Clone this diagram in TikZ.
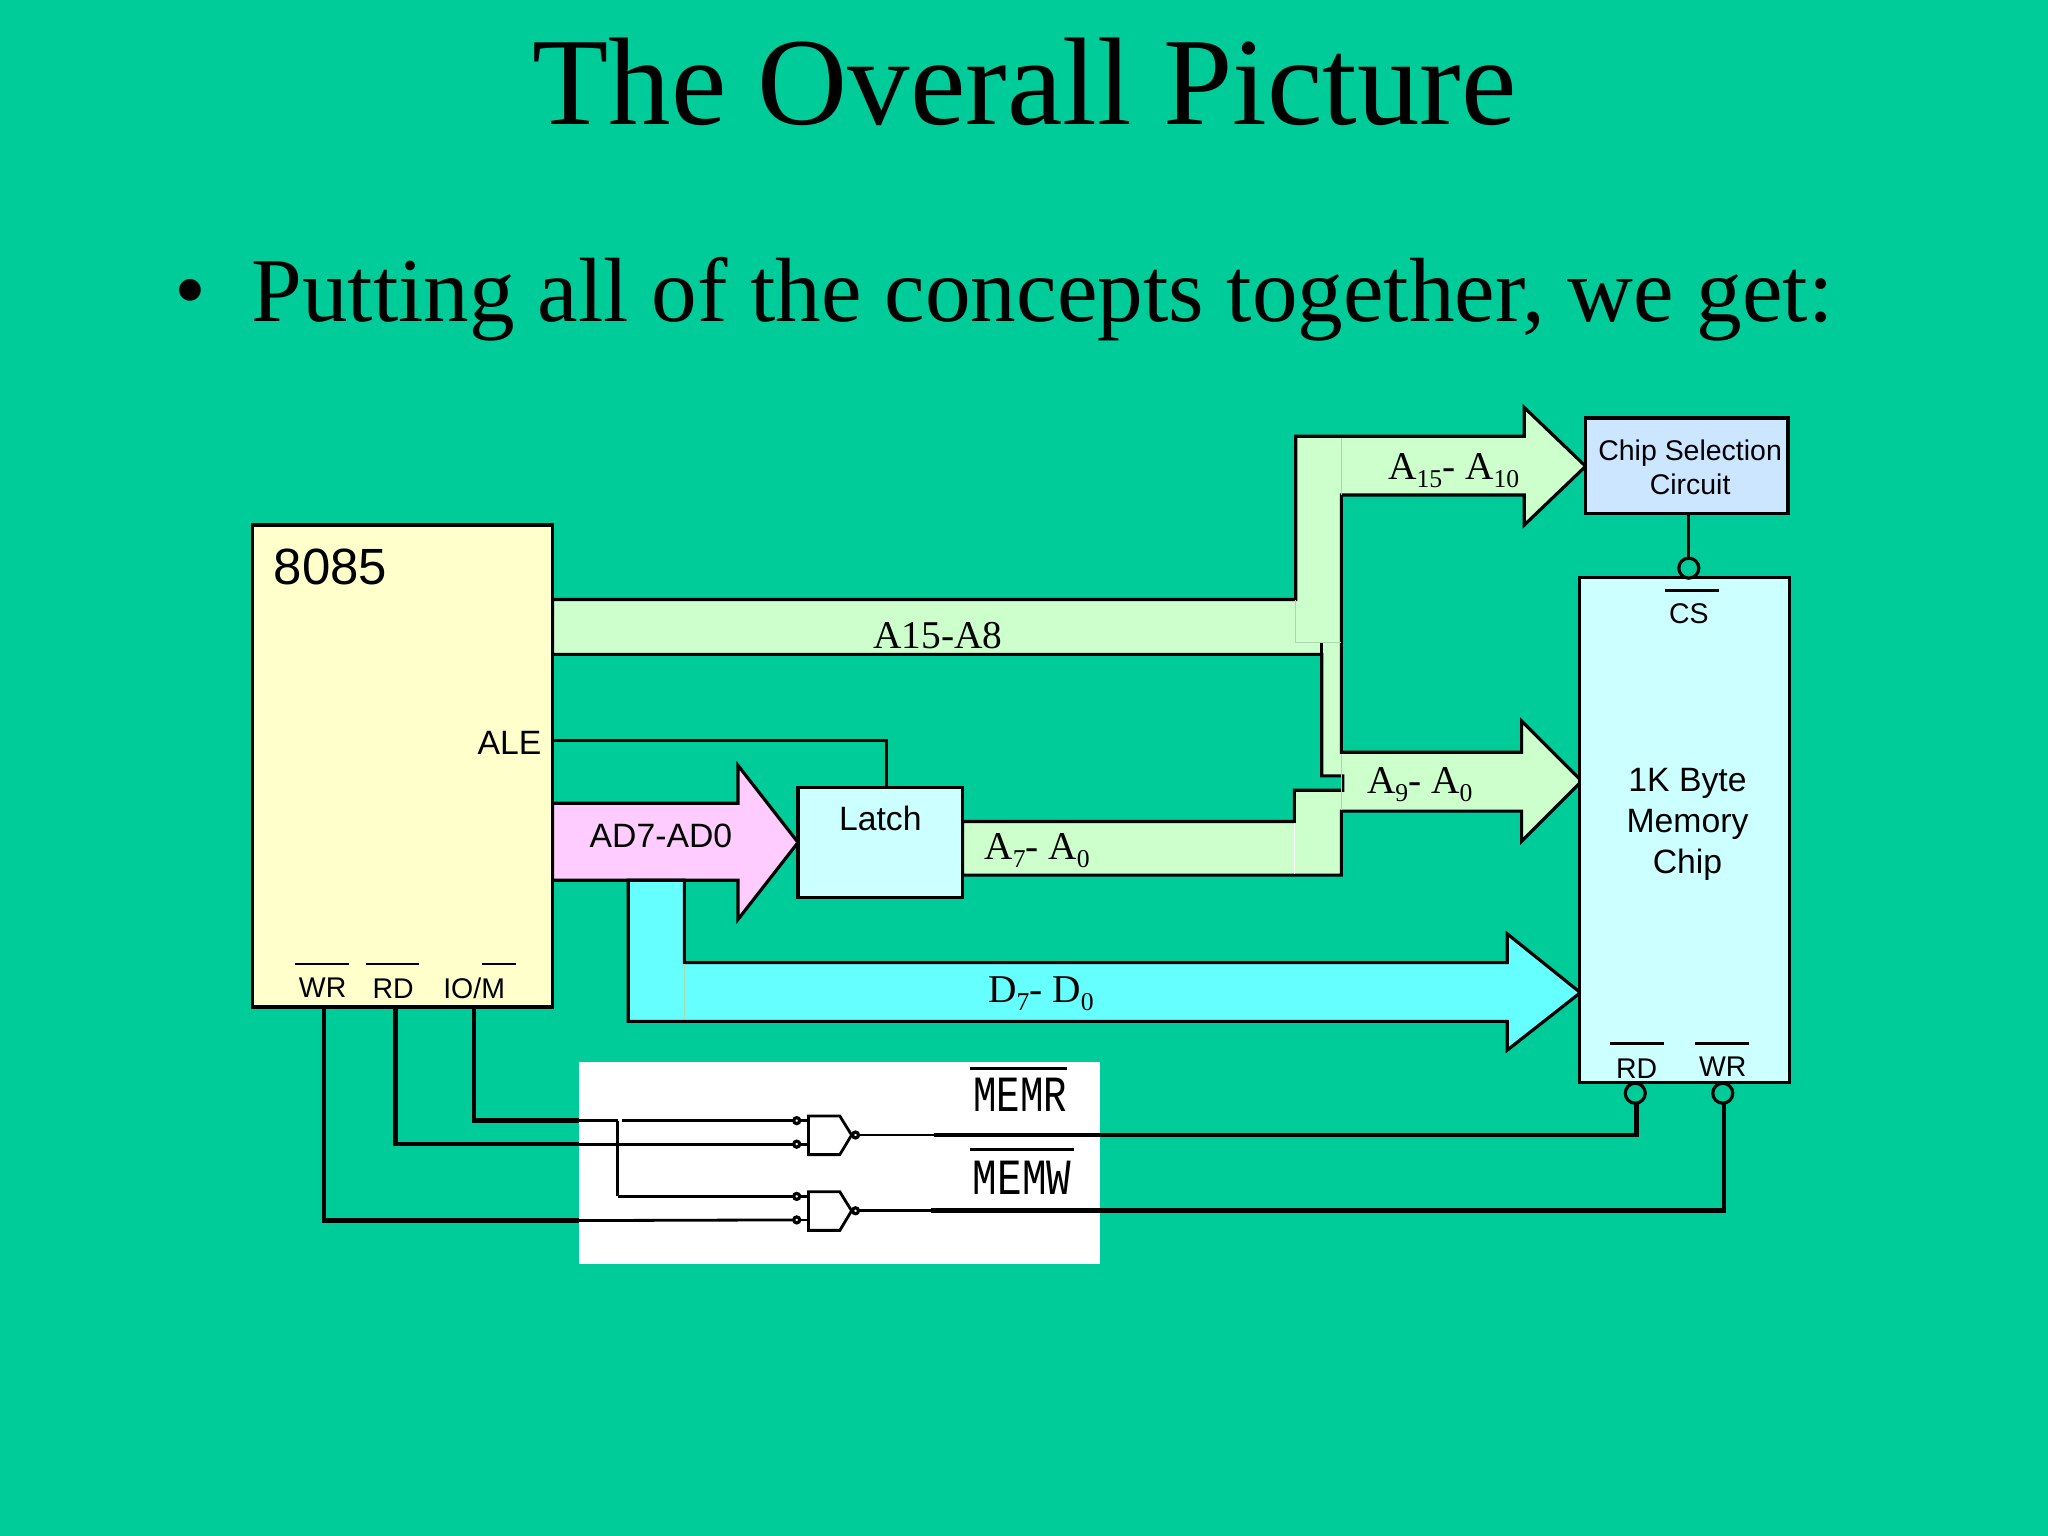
\documentclass[tikz,border=0pt]{standalone}
\usepackage{fontspec}
\setmainfont{Liberation Serif}
\setsansfont{Liberation Sans}
\setmonofont{Liberation Mono}
\definecolor{slidebg}{HTML}{00CC99}
\definecolor{cpuyellow}{HTML}{FFFFCC}
\definecolor{chipcyan}{HTML}{CCFFFF}
\definecolor{selblue}{HTML}{CCE6FF}
\definecolor{addrgreen}{HTML}{CCFFCC}
\definecolor{adpink}{HTML}{FFCCFF}
\definecolor{datacyan}{HTML}{66FFFF}
\definecolor{seam}{HTML}{A9D9AE}
\newcommand{\busub}[1]{\raisebox{-0.45ex}{\fontsize{7.3}{8}\selectfont #1}}

\begin{document}
\begin{tikzpicture}[x=0.0130612cm,y=-0.0130612cm,
  box node/.style={rectangle,draw,line width=0.9pt,inner sep=0pt,outer sep=0pt},
  bus/.style={draw,line width=0.9pt,line join=miter},
  wire/.style={line width=0.8pt},
  fat wire/.style={line width=1.3pt},
  bar/.style={line width=0.8pt},
  pin bubble/.style={circle,draw,line width=0.9pt,inner sep=0pt,outer sep=0pt,minimum size=0.2cm,fill=slidebg},
  gate bubble/.style={circle,draw,line width=0.9pt,inner sep=0pt,outer sep=0pt,minimum size=0.06cm,fill=white},
  sans big/.style={font=\sffamily\fontsize{9.6}{11.7}\selectfont,inner sep=0pt},
  sans small/.style={font=\sffamily\fontsize{8.1}{9.6}\selectfont,inner sep=0pt},
  bus label/.style={font=\fontsize{11.2}{13}\selectfont,inner sep=0pt},
  pixel label/.style={font=\ttfamily\fontsize{11.1}{12}\selectfont,inner sep=0pt,yscale=1.3}]

  \fill[slidebg] (0,0) rectangle (1568,1176);
  \useasboundingbox (0,0) rectangle (1568,1176);

  \node[font=\fontsize{35.5}{40}\selectfont,anchor=base,inner sep=0pt] (title) at (784.5,95.5) {The Overall Picture};
  \node[font=\fontsize{25.9}{30}\selectfont,inner sep=0pt] (dot) at (146,230) {\textbullet};
  \node[font=\fontsize{25.95}{30}\selectfont,anchor=base west,inner sep=0pt] (intro) at (192,246) {Putting all of the concepts together, we get:};

  % address bus, one outline
  \path[bus,fill=addrgreen]
  (423,459) -- (992,459) -- (992,334) -- (1167,334) -- (1167,312) -- (1214,357)
  -- (1167,402) -- (1167,379) -- (1027,379) -- (1027,576) -- (1165,576) -- (1165,552)
  -- (1211,598) -- (1165,644) -- (1165,621) -- (1027,621) -- (1027,670) -- (737,670)
  -- (737,629) -- (991,629) -- (991,605) -- (1028,605) -- (1028,594) -- (1012,594)
  -- (1012,501) -- (423,501) -- cycle;
  \draw[seam,line width=0.4pt] (1027,335) -- (1027,379);
  \draw[seam,line width=0.4pt] (992,459) -- (992,492) -- (1027,492);
  \draw[seam,line width=0.4pt] (1027,577) -- (1027,620);
  \draw[white,line width=0.4pt] (991,630) -- (991,669);
  \draw[wire] (1012,492) -- (1012,501);

  % multiplexed bus
  \path[bus,fill=adpink]
  (423,615) -- (565,615) -- (565,586) -- (611,645) -- (565,704) -- (565,674)
  -- (423,674) -- cycle;

  % data bus
  \path[bus,fill=datacyan]
  (481,674) -- (524,674) -- (524,737) -- (1154,737) -- (1154,715) -- (1210,760)
  -- (1154,804) -- (1154,782) -- (481,782) -- cycle;
  \draw[seam,line width=0.4pt] (524,738) -- (524,781);

  \node[box node,fill=cpuyellow,minimum width=3.004cm,minimum height=4.82cm] (cpu) at (308,586.5) {};
  \node[box node,fill=chipcyan,minimum width=1.646cm,minimum height=1.097cm] (latch) at (674,645) {};
  \node[box node,fill=selblue,minimum width=2.024cm,minimum height=0.953cm] (sel) at (1291.5,356.5) {};
  \node[box node,fill=chipcyan,minimum width=2.103cm,minimum height=5.055cm] (mem) at (1289.5,635.5) {};
  \node[rectangle,fill=white,inner sep=0pt,outer sep=0pt,minimum width=5.211cm,minimum height=2.024cm] (logic) at (642.5,890.5) {};

  \node[font=\sffamily\fontsize{14.5}{16}\selectfont,anchor=west,inner sep=0pt] (cpuname) at (209,434) {8085};
  \node[sans big,anchor=east] (ale) at (415,569) {ALE};
  \node[sans big] (adlabel) at (506,640) {AD7-AD0};
  \node[sans big] (latchname) at (674,627) {Latch};
  \node[sans small] (wrcpu) at (247,756) {WR};
  \node[sans small] (rdcpu) at (301,757) {RD};
  \node[sans small] (iocpu) at (363,757) {IO/M};
  \node[sans small,align=center] (selname) at (1294,358) {Chip Selection\\Circuit};
  \node[sans small] (cs) at (1293,470) {CS};
  \node[sans big,align=center] (memname) at (1292,631) {1K Byte\\Memory\\Chip};
  \node[sans small] (rdmem) at (1253,818) {RD};
  \node[sans small] (wrmem) at (1319,817) {WR};
  \node[bus label] (highbus) at (718,487) {A15-A8};
  \node[bus label] (highsel) at (1113,360) {A\busub{15}- A\busub{10}};
  \node[bus label] (lowmem) at (1087,601) {A\busub{9}- A\busub{0}};
  \node[bus label] (lowlatch) at (794,651) {A\busub{7}- A\busub{0}};
  \node[bus label] (databus) at (797,761) {D\busub{7}- D\busub{0}};
  \node[pixel label] (memr) at (781,838.5) {MEMR};
  \node[pixel label,xscale=1.05] (memw) at (782.5,902) {MEMW};

  % bars over the active low names
  \draw[bar] (226,738) -- (267,738);
  \draw[bar] (280,738) -- (321,738);
  \draw[bar] (369,738) -- (395,738);
  \draw[bar] (1275,452) -- (1316,452);
  \draw[bar] (1233,799) -- (1274,799);
  \draw[bar] (1298,799) -- (1339,799);
  \draw[bar] (743,818) -- (817,818);
  \draw[bar] (743,880) -- (822,880);

  % pin bubbles
  \node[pin bubble] (csdot) at (1293,435) {};
  \node[pin bubble] (rddot) at (1252,837) {};
  \node[pin bubble] (wrdot) at (1319,837) {};

  % gates
  \draw[wire] (619,854.5) -- (643,854.5) -- (652,869) -- (643,884) -- (619,884) -- cycle;
  \draw[wire] (619,912.5) -- (643,912.5) -- (652,927) -- (643,942) -- (619,942) -- cycle;
  \node[gate bubble] (in1) at (610,858) {};
  \node[gate bubble] (in2) at (610,876) {};
  \node[gate bubble] (in3) at (610,916) {};
  \node[gate bubble] (in4) at (610,934) {};
  \node[gate bubble] (out1) at (655,869) {};
  \node[gate bubble] (out2) at (655,927) {};

  \coordinate (gate1) at (619,869);
  \coordinate (gate2) at (619,927);
  \coordinate (aleturn) at (679,567);
  \coordinate (iotop) at (363,771);
  \coordinate (rdtop) at (303,771);
  \coordinate (wrtop) at (248,771);
  \coordinate (ioedge) at (443,858);
  \coordinate (rdedge) at (443,876);
  \coordinate (wredge) at (443,934.5);
  \coordinate (split) at (473,858);
  \coordinate (resume) at (476,858);
  \coordinate (rout) at (715,869);
  \coordinate (wout) at (713,927);
  \coordinate (rcorner) at (1253,869);
  \coordinate (wcorner) at (1320,927);

  \draw[wire] (cpu.east |- aleturn) -- (aleturn) -- (aleturn |- latch.north);
  \draw[line width=0.9pt] (sel.south -| csdot) -- (csdot.north);
  \draw[fat wire] (iotop) |- (ioedge);
  \draw[fat wire] (rdtop) |- (rdedge);
  \draw[fat wire] (wrtop) |- (wredge);
  \draw[fat wire] (rout) -- (rcorner) -- (rddot.south -| rcorner);
  \draw[fat wire] (wout) -- (wcorner) -- (wrdot.south -| wcorner);

  \path[wire]
  (ioedge) edge (split)
  (split) edge (split |- in3)
  (split |- in3) edge (in3)
  (resume) edge (in1)
  (rdedge) edge (in2)
  (wredge) edge (in4)
  (out1) edge (rout)
  (out2) edge (wout)
  (in1) edge (in1 -| gate1)
  (in2) edge (in2 -| gate1)
  (in3) edge (in3 -| gate2)
  (in4) edge (in4 -| gate2);
\end{tikzpicture}
\end{document}
